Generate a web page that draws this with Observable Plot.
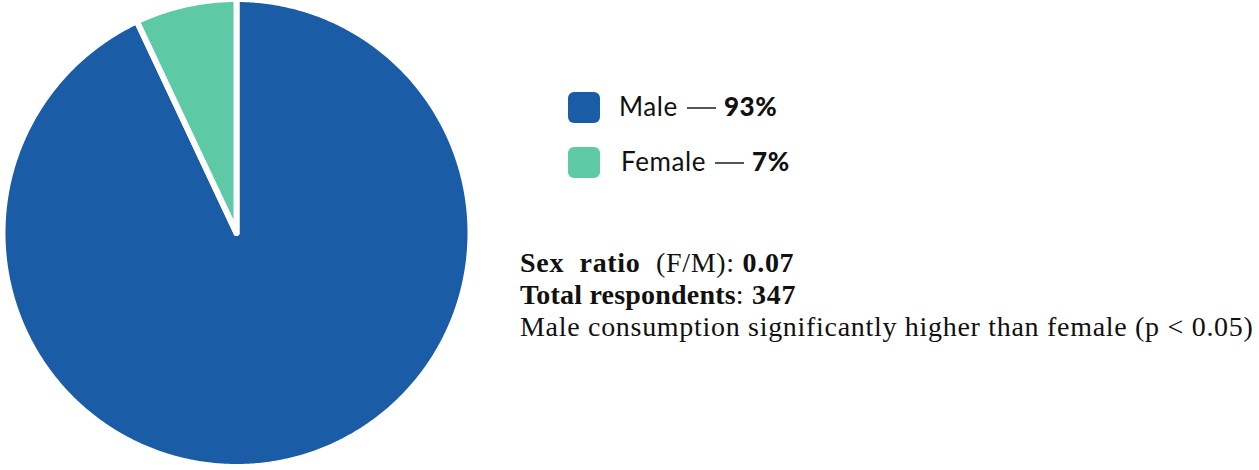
<!DOCTYPE html>
<html>
<head>
<meta charset="utf-8">
<script src="https://cdn.jsdelivr.net/npm/d3@7"></script>
<script src="https://cdn.jsdelivr.net/npm/@observablehq/plot@0.6"></script>
<style>
  html, body { margin: 0; padding: 0; background: #fff; }
  #wrap { position: relative; width: 1259px; height: 470px; overflow: hidden; }
  #chart { position: absolute; left: 0; top: 0; }
  .sw { position: absolute; width: 32px; height: 31px; border-radius: 6px; }
  .lt { position: absolute; white-space: nowrap; line-height: 30px; height: 30px;
        font-family: Lato, "Noto Sans", sans-serif; font-size: 26px; letter-spacing: 0.6px; color: #111; }
  .lt b { font-weight: 900; }
  .dash { display: inline-block; width: 29px; height: 2px; background: #555; vertical-align: middle; margin: 0 8px 0 9px; position: relative; top: -1px; }
  .stats { position: absolute; left: 520px; top: 247px; font-family: "Liberation Serif", "DejaVu Serif", serif; font-size: 28px; letter-spacing: 0.7px; line-height: 32px; color: #111; white-space: nowrap; }
  .stats b { font-weight: bold; }
</style>
</head>
<body>
<div id="wrap">
  <div id="chart"></div>
  <div id="legend"></div>
  <div class="stats" id="stats"></div>
</div>
<script>
// Data
const categories = ["Male", "Female"];
const shares = [93, 7];
const colors = ["#1b5ca6", "#5ec9a5"];
const sexRatio = 0.07;
const totalRespondents = 347;
const note = "Male consumption significantly higher than female (p < 0.05)";

// Build slice outlines on unit circle from pie angles (clockwise from 12 o'clock)
const pie = d3.pie().sort(null).value(d => d.share);
const arcs = pie(categories.map((c, i) => ({ sex: c, share: shares[i] })));
const outline = [];
for (const a of arcs) {
  const sex = a.data.sex;
  outline.push({ sex, u: 0, v: 0 });
  const steps = Math.max(2, Math.ceil((a.endAngle - a.startAngle) / (Math.PI / 360)));
  for (let k = 0; k <= steps; k++) {
    const t = a.startAngle + (a.endAngle - a.startAngle) * k / steps;
    outline.push({ sex, u: Math.sin(t), v: Math.cos(t) });
  }
  outline.push({ sex, u: 0, v: 0 });
}

const cx = 236, cy = 232.5, R = 234;
const chart = Plot.plot({
  width: 1259,
  height: 470,
  margin: 0,
  x: { domain: [-1, 1], range: [cx - R, cx + R], axis: null },
  y: { domain: [-1, 1], range: [cy + R, cy - R], axis: null },
  color: { domain: categories, range: colors },
  marks: [
    Plot.line(outline, { x: "u", y: "v", z: "sex", fill: "sex", stroke: "white", strokeWidth: 6, strokeLinejoin: "miter", strokeMiterlimit: 10, curve: "linear" })
  ]
});
document.getElementById("chart").appendChild(chart);

// Legend
const legend = document.getElementById("legend");
const legendPos = [{ sw: [568, 92], tx: [619, 91] }, { sw: [568, 147], tx: [621, 146] }];
categories.forEach((c, i) => {
  const s = document.createElement("div");
  s.className = "sw";
  s.style.left = legendPos[i].sw[0] + "px";
  s.style.top = legendPos[i].sw[1] + "px";
  s.style.background = colors[i];
  legend.appendChild(s);
  const t = document.createElement("div");
  t.className = "lt";
  t.style.left = legendPos[i].tx[0] + "px";
  t.style.top = legendPos[i].tx[1] + "px";
  t.innerHTML = `${c}<span class="dash"></span><b>${shares[i]}%</b>`;
  legend.appendChild(t);
});

// Stats
document.getElementById("stats").innerHTML =
  `<b>Sex&nbsp; ratio</b>&nbsp; (F/M): <b>${sexRatio.toFixed(2)}</b><br>` +
  `<b style="letter-spacing:0.2px">Total respondents</b>: <b>${totalRespondents}</b><br>` +
  `${note}`;
</script>
</body>
</html>
